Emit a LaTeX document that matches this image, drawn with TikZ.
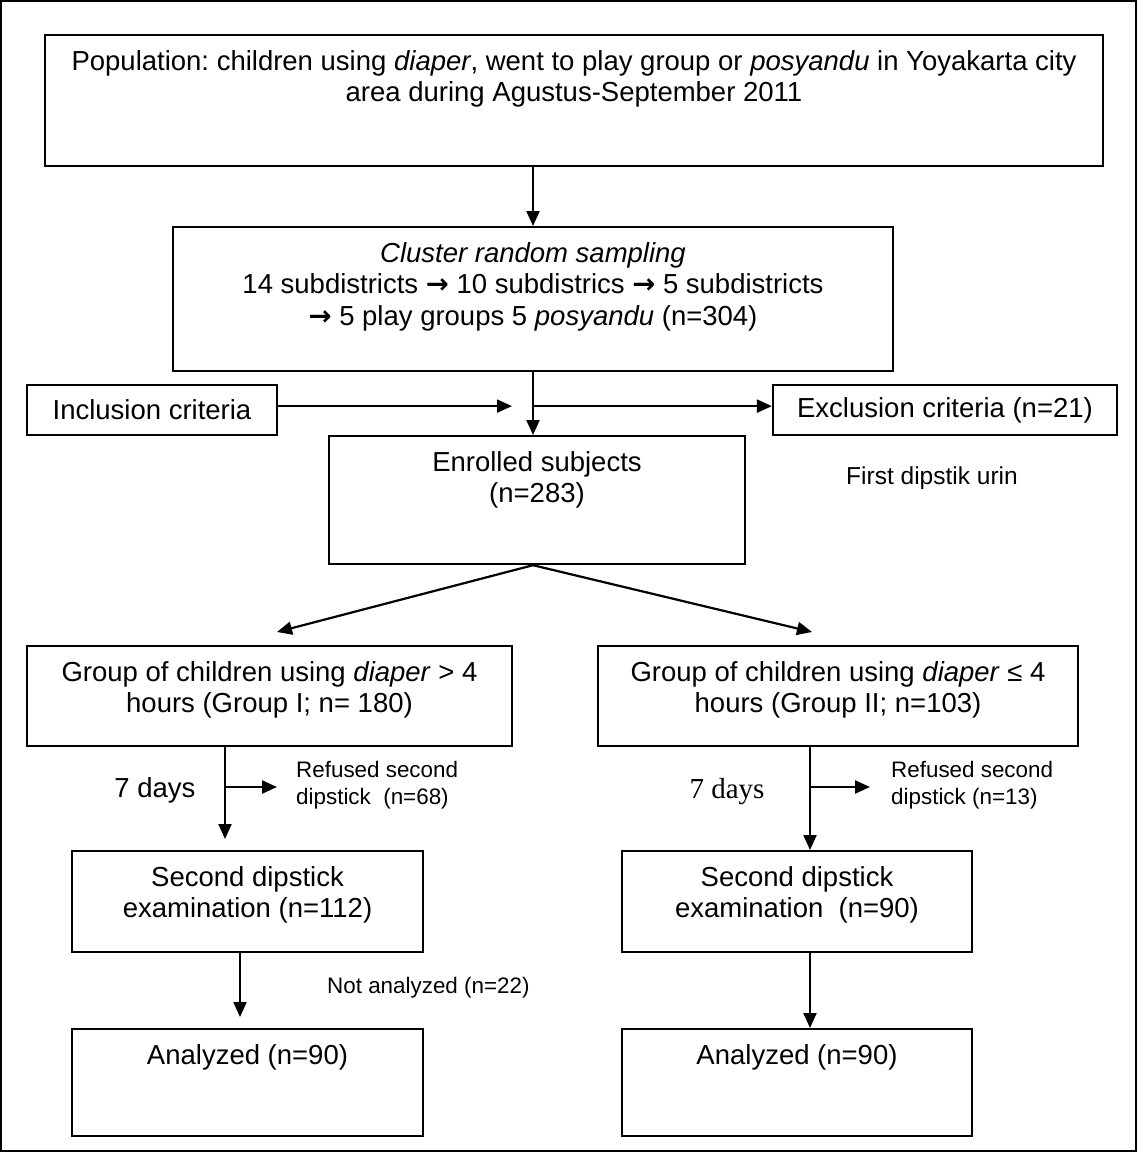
\documentclass[tikz,border=0pt]{standalone}
\usepackage{fontspec}
\setmainfont{Liberation Sans}
\newfontfamily\timesfont{Liberation Serif}
\newfontfamily\arrowfont{DejaVu Sans}
\usetikzlibrary{positioning,calc,arrows.meta}
\frenchspacing

% box text: fixed size, lines from the top
\newcommand{\boxlines}[3]{\parbox[c][#2][t]{#1}{\centering\rule{0pt}{35pt}#3}}
\newcommand{\thento}{{\arrowfont\bfseries →}}

\begin{document}
\begin{tikzpicture}[x=1pt,y=-1pt,
    font=\fontsize{27.5}{31.5}\selectfont,
    flowbox/.style={draw, line width=2.2pt, inner sep=0pt, anchor=north},
    flowline/.style={line width=2.2pt},
    flowarrow/.style={line width=2.2pt, -{Triangle[length=15pt,width=13pt]}},
    smalltext/.style={font=\fontsize{22.4}{27}\selectfont, anchor=west, align=left, inner sep=0pt}]
    \useasboundingbox (0,0) rectangle (1138,1153);
    \draw[flowline] (1,1) rectangle (1136,1151);

    % Population and sampling
    \node[flowbox] (pop) at (574,34) {\boxlines{1058pt}{131pt}{Population: children using \textit{diaper}, went to play group or \textit{posyandu} in Yoyakarta city\\ area during Agustus-September 2011}};
    \node[flowbox] (cluster) at (533,226) {\boxlines{720pt}{144pt}{\textit{Cluster random sampling}\\ 14 subdistricts \thento{} 10 subdistrics \thento{} 5 subdistricts\\ \thento{} 5 play groups 5 \textit{posyandu} (n=304)}};

    % Criteria
    \node[flowbox, anchor=center, minimum width=250pt, minimum height=50pt] (incl) at (152,410) {Inclusion criteria};
    \node[flowbox, anchor=center, minimum width=344pt, minimum height=50pt] (excl) at (945,410) {Exclusion criteria (n=21)};
    \node[flowbox] (enrol) at (537,435) {\boxlines{416pt}{128pt}{Enrolled subjects\\ (n=283)}};
    \node[font=\fontsize{24.5}{28}\selectfont] (first) at (932,478) {First dipstik urin};

    % Two groups
    \node[flowbox] (groupI) at (269.5,645) {\boxlines{485pt}{100pt}{Group of children using \textit{diaper} > 4\\ hours (Group I; n= 180)}};
    \node[flowbox] (groupII) at (838,645) {\boxlines{480pt}{100pt}{Group of children using \textit{diaper} ≤ 4\\ hours (Group II; n=103)}};
    \node[flowbox] (secondI) at (247.5,850) {\boxlines{351pt}{101pt}{Second dipstick\\ examination (n=112)}};
    \node[flowbox] (secondII) at (797,850) {\boxlines{350pt}{101pt}{Second dipstick\\ examination~ (n=90)}};
    \node[flowbox] (analysedI) at (247.5,1028) {\boxlines{351pt}{107pt}{Analyzed (n=90)}};
    \node[flowbox] (analysedII) at (797,1028) {\boxlines{350pt}{107pt}{Analyzed (n=90)}};

    % Side labels
    \node (daysI) at (155,790) {7 days};
    \node[font=\timesfont\fontsize{29}{33}\selectfont] (daysII) at (727,792) {7 days};
    \node[smalltext] (refusedI) at (296,785) {Refused second\\ dipstick~ (n=68)};
    \node[smalltext] (refusedII) at (891,785) {Refused second\\ dipstick (n=13)};
    \node[smalltext] (notanal) at (327,988) {Not analyzed (n=22)};

    % Arrows
    \coordinate (join) at ($(cluster.south)!0.54!(cluster.south |- enrol.north)$);
    \coordinate (tipI) at (277,632);
    \coordinate (tipII) at (812,632);
    \coordinate (forkI) at (225,787);
    \coordinate (forkII) at (810,787);
    \draw[flowarrow] (cluster.north |- pop.south) -- (cluster.north);
    \draw[flowarrow] (cluster.south) -- (cluster.south |- enrol.north);
    \draw[flowarrow] (incl.east |- join) -- ([xshift=-21pt]join);
    \draw[flowarrow] (join) -- (join -| excl.west);
    \draw[flowarrow] (cluster.south |- enrol.south) -- (tipI);
    \draw[flowarrow] (cluster.south |- enrol.south) -- (tipII);
    \draw[flowarrow, shorten >=11pt] (groupI.south -| forkI) -- (forkI |- secondI.north);
    \draw[flowarrow, shorten >=19pt] (forkI) -- (forkI -| refusedI.west);
    \draw[flowarrow] (groupII.south -| forkII) -- (forkII |- secondII.north);
    \draw[flowarrow, shorten >=21pt] (forkII) -- (forkII -| refusedII.west);
    \draw[flowarrow, shorten >=11pt] ([xshift=-7.5pt]secondI.south) -- ([xshift=-7.5pt]analysedI.north);
    \draw[flowarrow] (secondII.south -| forkII) -- (forkII |- analysedII.north);
\end{tikzpicture}
\end{document}
